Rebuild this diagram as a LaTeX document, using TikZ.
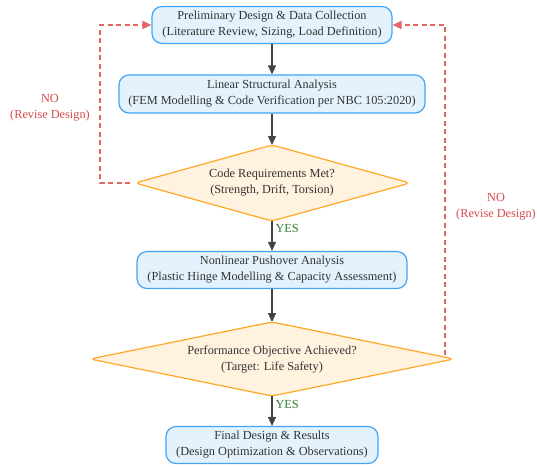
\documentclass[tikz,border=0pt]{standalone}
\usepackage{fontspec}
\setmainfont{Liberation Serif}
\usetikzlibrary{shapes.geometric,arrows.meta}
\definecolor{boxfill}{HTML}{E3F2FD}
\definecolor{boxdraw}{HTML}{42A5F5}
\definecolor{decfill}{HTML}{FFF3E0}
\definecolor{decdraw}{HTML}{FFA726}
\definecolor{nored}{HTML}{D84848}
\definecolor{noline}{HTML}{E06666}
\definecolor{yesgreen}{HTML}{2E7D32}
\definecolor{txt}{HTML}{333333}
\definecolor{arr}{HTML}{444444}
\begin{document}
\begin{tikzpicture}[x=1pt,y=-1pt,
  every node/.style={font=\fontsize{12.3}{16}\selectfont, text=txt, align=center},
  procbox/.style={draw=boxdraw, fill=boxfill, line width=1.2pt, rounded corners=10pt, inner sep=0pt},
  decbox/.style={draw=decdraw, fill=decfill, line width=1.2pt, rounded corners=5pt},
  flow/.style={draw=arr, line width=1.3pt, -{Triangle[length=9pt,width=8pt]}},
  noflow/.style={draw=noline, line width=1.2pt, dash pattern=on 5pt off 3.5pt, -{Triangle[length=9pt,width=8pt]}},
  nolab/.style={text=nored},
  yeslab/.style={text=yesgreen, anchor=west}]
\useasboundingbox (0,0) rectangle (537,466);
\node[procbox, minimum width=240pt, minimum height=37pt] (n1) at (272,25) {Preliminary Design \& Data Collection\\(Literature Review, Sizing, Load Definition)};
\node[procbox, minimum width=306pt, minimum height=38pt] (n2) at (272,94) {Linear Structural Analysis\\(FEM Modelling \& Code Verification per NBC 105:2020)};
\draw[decbox] (135,183) -- (272,145) -- (410,183) -- (272,221) -- cycle;
\node (d1) at (272,183) {Code Requirements Met?\\(Strength, Drift, Torsion)};
\coordinate (d1t) at (272,145);
\coordinate (d1b) at (272,221);
\coordinate (d1l) at (130,183);
\node[procbox, minimum width=270pt, minimum height=37pt] (n3) at (272,270) {Nonlinear Pushover Analysis\\(Plastic Hinge Modelling \& Capacity Assessment)};
\draw[decbox] (90,359) -- (272,322) -- (454,359) -- (272,396) -- cycle;
\node (d2) at (272,359) {Performance Objective Achieved?\\(Target: Life Safety)};
\coordinate (d2t) at (272,322);
\coordinate (d2b) at (272,396);
\coordinate (d2r) at (445,355);
\node[procbox, minimum width=212pt, minimum height=37pt] (n4) at (272,445) {Final Design \& Results\\(Design Optimization \& Observations)};
\draw[flow] (n1) -- (n2);
\draw[flow] (n2) -- (d1t);
\draw[flow] (d1b) -- (n3);
\draw[flow] (n3) -- (d2t);
\draw[flow] (d2b) -- (n4);
\node[yeslab] at (272,228) {YES};
\node[yeslab] at (272,404) {YES};
\coordinate (lc1) at (100,183);
\coordinate (lc2) at (100,25);
\draw[noflow] (d1l) -- (lc1) -- (lc2) -- (n1.west);
\coordinate (rc2) at (445,25);
\draw[noflow] (d2r) -- (rc2) -- (n1.east);
\node[nolab] at (50,108) {NO\\(Revise Design)};
\node[nolab] at (496,207) {NO\\(Revise Design)};
\end{tikzpicture}
\end{document}
